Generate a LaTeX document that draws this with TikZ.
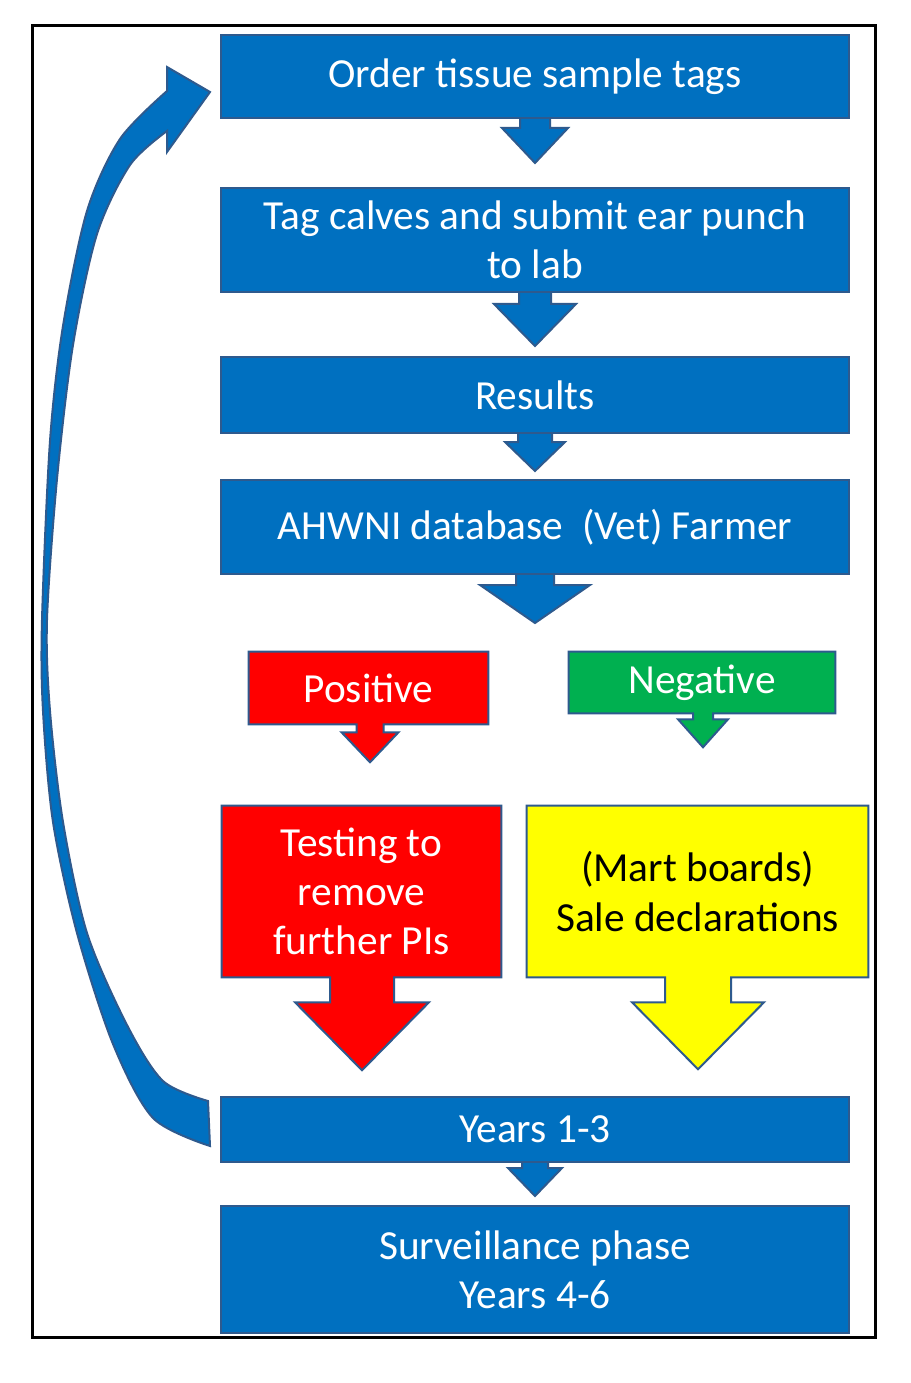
\documentclass[tikz,border=0pt]{standalone}
\usepackage{fontspec}
\setmainfont{Carlito}
\usetikzlibrary{calc,backgrounds}
\definecolor{boxblue}{HTML}{0070C0}
\definecolor{edgeblue}{HTML}{2E5A8E}
\definecolor{posred}{HTML}{FF0000}
\definecolor{neggreen}{HTML}{00B050}
\definecolor{saleyellow}{HTML}{FFFF00}
\begin{document}
\begin{tikzpicture}[x=0.75pt,y=-0.75pt,
  lbl/.style={font=\fontsize{31}{37}\selectfont, align=center, text=white, inner sep=0pt},
  bluebox/.style={lbl, rectangle, fill=boxblue, draw=edgeblue, line width=1.5pt, minimum width=471pt},
  calloutbox/.style={lbl, rectangle},
  shapeedge/.style={draw=edgeblue, line width=1.5pt, line join=miter},
  frameline/.style={draw=black, line width=2.25pt}]
\useasboundingbox (0,0) rectangle (910,1383);

% blue process boxes
\node[bluebox, minimum height=62.25pt] (b1) at (535,76.5) {Order tissue sample tags};
\node[bluebox, minimum height=78pt] (b2) at (535,240) {Tag calves and submit ear punch\\to lab};
\node[bluebox, minimum height=57pt] (b3) at (535,395) {Results};
\node[bluebox, minimum height=70.5pt] (b4) at (535,527) {AHWNI database\ \ (Vet) Farmer};
\node[bluebox, minimum height=48.75pt] (y13) at (535,1129.5) {Years 1-3};
\node[bluebox, minimum height=95.25pt] (surv) at (535,1269.5) {Surveillance phase\\Years 4-6};

% callout boxes
\node[calloutbox, minimum width=179.25pt, minimum height=54pt] (pos) at (368.5,688) {Positive};
\node[calloutbox, minimum width=199.5pt, minimum height=45.75pt] (neg) at (702,682.5) {Negative};
\node[calloutbox, minimum width=209.25pt, minimum height=128.25pt] (test) at (361.5,891.5) {Testing to\\remove\\further PIs};
\node[calloutbox, minimum width=255.75pt, minimum height=128.25pt, text=black] (sale) at (697.5,891.5) {(Mart boards)\\Sale declarations};

\begin{scope}[on background layer]
\fill[white] (0,0) rectangle (910,1383);
\draw[frameline] (32,26) rectangle (875,1337);
% down arrows between blue boxes
\path[shapeedge, fill=boxblue] ($(b1.south)+(-15,-4)$) -- ($(b1.south)+(15,-4)$) -- ($(b1.south)+(15,9)$) -- ($(b1.south)+(33,9)$) -- ($(b1.south)+(0,44)$) -- ($(b1.south)+(-33,9)$) -- ($(b1.south)+(-15,9)$) -- cycle;
\path[shapeedge, fill=boxblue] ($(b2.south)+(-16,-4)$) -- ($(b2.south)+(16,-4)$) -- ($(b2.south)+(16,11)$) -- ($(b2.south)+(41,11)$) -- ($(b2.south)+(0,53)$) -- ($(b2.south)+(-41,11)$) -- ($(b2.south)+(-16,11)$) -- cycle;
\path[shapeedge, fill=boxblue] ($(b3.south)+(-17,-4)$) -- ($(b3.south)+(17,-4)$) -- ($(b3.south)+(17,8)$) -- ($(b3.south)+(30,8)$) -- ($(b3.south)+(0,37)$) -- ($(b3.south)+(-30,8)$) -- ($(b3.south)+(-17,8)$) -- cycle;
\path[shapeedge, fill=boxblue] ($(b4.south)+(-19,-4)$) -- ($(b4.south)+(19,-4)$) -- ($(b4.south)+(19,10)$) -- ($(b4.south)+(55,10)$) -- ($(b4.south)+(0,48)$) -- ($(b4.south)+(-55,10)$) -- ($(b4.south)+(-19,10)$) -- cycle;
\path[shapeedge, fill=boxblue] ($(y13.south)+(-13,-4)$) -- ($(y13.south)+(13,-4)$) -- ($(y13.south)+(13,5)$) -- ($(y13.south)+(27,5)$) -- ($(y13.south)+(0,33)$) -- ($(y13.south)+(-27,5)$) -- ($(y13.south)+(-13,5)$) -- cycle;

% callout outlines
\path[shapeedge, fill=posred] (pos.north west) -- (pos.north east) -- (pos.south east) -- ($(pos.south)+(15,0)$) -- ($(pos.south)+(15,8)$) -- ($(pos.south)+(30,8)$) -- ($(pos.south)+(1.5,38)$) -- ($(pos.south)+(-27,8)$) -- ($(pos.south)+(-12,8)$) -- ($(pos.south)+(-12,0)$) -- (pos.south west) -- cycle;
\path[shapeedge, fill=neggreen] (neg.north west) -- (neg.north east) -- (neg.south east) -- ($(neg.south)+(11,0)$) -- ($(neg.south)+(11,6)$) -- ($(neg.south)+(26,6)$) -- ($(neg.south)+(1,34)$) -- ($(neg.south)+(-24,6)$) -- ($(neg.south)+(-9,6)$) -- ($(neg.south)+(-9,0)$) -- (neg.south west) -- cycle;
\path[shapeedge, fill=posred] (test.north west) -- (test.north east) -- (test.south east) -- ($(test.south)+(32.5,0)$) -- ($(test.south)+(32.5,25)$) -- ($(test.south)+(67.5,25)$) -- ($(test.south)+(0.5,93)$) -- ($(test.south)+(-66.5,25)$) -- ($(test.south)+(-31.5,25)$) -- ($(test.south)+(-31.5,0)$) -- (test.south west) -- cycle;
\path[shapeedge, fill=saleyellow] (sale.north west) -- (sale.north east) -- (sale.south east) -- ($(sale.south)+(33.5,0)$) -- ($(sale.south)+(33.5,25)$) -- ($(sale.south)+(66.5,25)$) -- ($(sale.south)+(0.5,92)$) -- ($(sale.south)+(-65.5,25)$) -- ($(sale.south)+(-32.5,25)$) -- ($(sale.south)+(-32.5,0)$) -- (sale.south west) -- cycle;
\end{scope}

% curved return arrow from Years 1-3 to Order tissue sample tags
\path[shapeedge, fill=boxblue]
  plot[smooth] coordinates {(210,1146) (153,1118) (113,1044) (77,933) (53,822) (43,711) (42,620) (50,441) (63,326) (87,211) (120,139) (167,91)}
  -- (167,67) -- (210,92) -- (167,152)
  -- plot[smooth] coordinates {(167,131) (130,165) (97,234) (73,345) (57,479) (47,620) (50,711) (63,822) (87,933) (127,1025) (163,1081) (208,1101)}
  -- cycle;
\end{tikzpicture}
\end{document}
